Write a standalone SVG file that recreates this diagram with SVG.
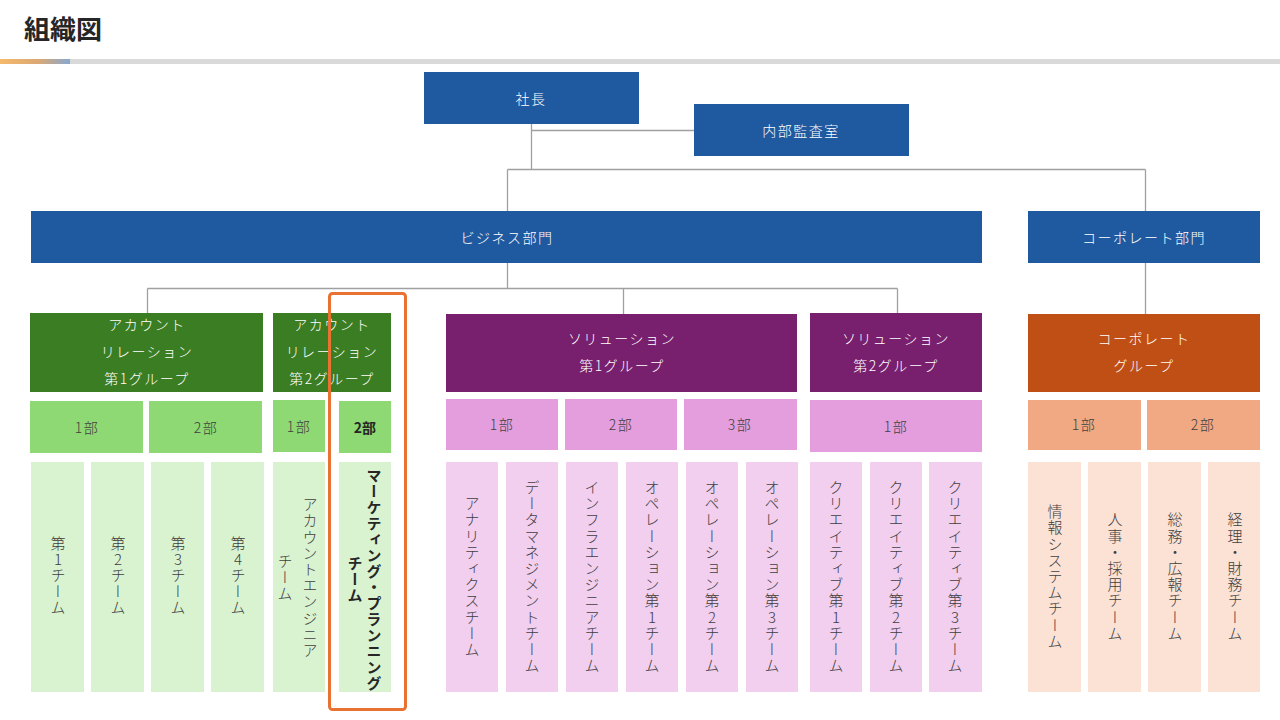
<svg xmlns="http://www.w3.org/2000/svg" width="1280" height="720" viewBox="0 0 1280 720">
<defs>
<linearGradient id="barGrad" x1="0" y1="0" x2="1" y2="0">
<stop offset="0" stop-color="#f5b96c"/>
<stop offset="0.55" stop-color="#dba874"/>
<stop offset="1" stop-color="#86a9d0"/>
</linearGradient>
<style>
text{font-family:"Noto Sans CJK JP","Noto Sans",sans-serif;}
.h{font-size:14px;letter-spacing:1.5px;text-anchor:middle;dominant-baseline:central;font-weight:300;}
.w{fill:#ffffff;}
.d{fill:#404040;}
.v{font-size:15px;letter-spacing:1.2px;text-anchor:middle;writing-mode:vertical-rl;text-orientation:upright;fill:#404040;font-weight:300;}
.b{font-weight:bold;fill:#262626;}
.blue{fill:#1f59a0;}
.g1{fill:#3b7d23;}.g2{fill:#8ed973;}.g3{fill:#d9f2d0;}
.p1{fill:#78206e;}.p2{fill:#e49edd;}.p3{fill:#f2ceef;}
.o1{fill:#c04f15;}.o2{fill:#f1a983;}.o3{fill:#fbe2d5;}
.conn{stroke:#a0a0a0;stroke-width:1.3;fill:none;}
</style>
</defs>
<rect width="1280" height="720" fill="#ffffff"/>
<text x="24" y="39" style="font-size:26px;font-weight:bold;fill:#262626;">組織図</text>
<rect x="0" y="59" width="70" height="5" fill="url(#barGrad)"/>
<rect x="70" y="59" width="1210" height="5" fill="#d9d9d9"/>

<g id="connectors" class="conn">
<path d="M531.5 124 V169.5 M531.5 130.5 H694 M507.5 169.5 H1145.5 M507.5 169.5 V211 M1145.5 169.5 V211"/>
<path d="M507.5 263 V288.5 M147.5 288.5 H897.5 M147.5 288.5 V313 M623.5 288.5 V314 M897.5 288.5 V313"/>
<path d="M1145.5 263 V314"/>
</g>

<g id="shacho"><rect class="blue" x="424" y="72" width="215" height="52"/><text class="h w" x="531" y="98">社長</text></g>
<g id="naibu-kansa"><rect class="blue" x="694" y="104" width="215" height="52"/><text class="h w" x="801" y="130">内部監査室</text></g>
<g id="business"><rect class="blue" x="31" y="211" width="951" height="52"/><text class="h w" x="507" y="237">ビジネス部門</text></g>
<g id="corporate"><rect class="blue" x="1028" y="211" width="232" height="52"/><text class="h w" x="1144" y="237">コーポレート部門</text></g>

<g id="ar1"><rect class="g1" x="30" y="313" width="233" height="79"/>
<text class="h w" x="147" y="324">アカウント</text><text class="h w" x="147" y="351">リレーション</text><text class="h w" x="147" y="378">第1グループ</text></g>
<g id="ar2"><rect class="g1" x="273" y="313" width="118" height="79"/>
<text class="h w" x="332" y="324">アカウント</text><text class="h w" x="332" y="351">リレーション</text><text class="h w" x="332" y="378">第2グループ</text></g>
<g id="sol1"><rect class="p1" x="446" y="314" width="351" height="78"/>
<text class="h w" x="622" y="338">ソリューション</text><text class="h w" x="622" y="365">第1グループ</text></g>
<g id="sol2"><rect class="p1" x="810" y="313" width="172" height="79"/>
<text class="h w" x="896" y="338">ソリューション</text><text class="h w" x="896" y="365">第2グループ</text></g>
<g id="corpgroup"><rect class="o1" x="1028" y="314" width="232" height="78"/>
<text class="h w" x="1144" y="338">コーポレート</text><text class="h w" x="1144" y="365">グループ</text></g>

<g id="ar1-1"><rect class="g2" x="30" y="401" width="113" height="52"/><text class="h d" x="87" y="427">1部</text></g>
<g id="ar1-2"><rect class="g2" x="149" y="401" width="113" height="52"/><text class="h d" x="206" y="427">2部</text></g>
<g id="ar2-1"><rect class="g2" x="273" y="400" width="52" height="52"/><text class="h d" x="299" y="426">1部</text></g>
<g id="ar2-2"><rect class="g2" x="339" y="401" width="52" height="52"/><text class="h b" x="365" y="427" style="letter-spacing:0">2部</text></g>
<g id="sol1-1"><rect class="p2" x="446" y="399" width="112" height="51"/><text class="h d" x="502" y="424">1部</text></g>
<g id="sol1-2"><rect class="p2" x="565" y="399" width="112" height="51"/><text class="h d" x="621" y="424">2部</text></g>
<g id="sol1-3"><rect class="p2" x="684" y="399" width="113" height="51"/><text class="h d" x="740" y="424">3部</text></g>
<g id="sol2-1"><rect class="p2" x="810" y="400" width="172" height="52"/><text class="h d" x="896" y="426">1部</text></g>
<g id="corp-1"><rect class="o2" x="1028" y="400" width="113" height="50"/><text class="h d" x="1084" y="424">1部</text></g>
<g id="corp-2"><rect class="o2" x="1147" y="400" width="113" height="50"/><text class="h d" x="1203" y="424">2部</text></g>

<g id="team-ar1"><rect class="g3" x="31" y="462" width="53" height="230"/><text class="v" x="58" y="576">第1チーム</text></g>
<g id="team-ar2"><rect class="g3" x="91" y="462" width="53" height="230"/><text class="v" x="118" y="576">第2チーム</text></g>
<g id="team-ar3"><rect class="g3" x="151" y="462" width="53" height="230"/><text class="v" x="178" y="576">第3チーム</text></g>
<g id="team-ar4"><rect class="g3" x="211" y="462" width="53" height="230"/><text class="v" x="238" y="576">第4チーム</text></g>
<g id="team-ae"><rect class="g3" x="273" y="462" width="52" height="230"/><text class="v" x="310" y="578">アカウントエンジニア</text><text class="v" x="285" y="578">チーム</text></g>
<g id="team-mp"><rect class="g3" x="339" y="462" width="52" height="230"/><text class="v b" x="374" y="580" style="letter-spacing:1px">マーケティング・プランニング</text><text class="v b" x="355" y="580">チーム</text></g>

<g id="team-analytics"><rect class="p3" x="446" y="462" width="52" height="230"/><text class="v" x="472" y="577">アナリティクスチーム</text></g>
<g id="team-data"><rect class="p3" x="506" y="462" width="52" height="230"/><text class="v" x="532" y="577">データマネジメントチーム</text></g>
<g id="team-infra"><rect class="p3" x="566" y="462" width="52" height="230"/><text class="v" x="592" y="577">インフラエンジニアチーム</text></g>
<g id="team-op1"><rect class="p3" x="626" y="462" width="52" height="230"/><text class="v" x="652" y="577">オペレーション第1チーム</text></g>
<g id="team-op2"><rect class="p3" x="686" y="462" width="52" height="230"/><text class="v" x="712" y="577">オペレーション第2チーム</text></g>
<g id="team-op3"><rect class="p3" x="746" y="462" width="52" height="230"/><text class="v" x="772" y="577">オペレーション第3チーム</text></g>
<g id="team-cr1"><rect class="p3" x="810" y="462" width="52" height="230"/><text class="v" x="836" y="577">クリエイティブ第1チーム</text></g>
<g id="team-cr2"><rect class="p3" x="870" y="462" width="52" height="230"/><text class="v" x="896" y="577">クリエイティブ第2チーム</text></g>
<g id="team-cr3"><rect class="p3" x="929" y="462" width="53" height="230"/><text class="v" x="955" y="577">クリエイティブ第3チーム</text></g>

<g id="team-is"><rect class="o3" x="1028" y="462" width="53" height="230"/><text class="v" x="1055" y="577">情報システムチーム</text></g>
<g id="team-hr"><rect class="o3" x="1088" y="462" width="53" height="230"/><text class="v" x="1115" y="577">人事・採用チーム</text></g>
<g id="team-ga"><rect class="o3" x="1148" y="462" width="53" height="230"/><text class="v" x="1175" y="577">総務・広報チーム</text></g>
<g id="team-fin"><rect class="o3" x="1208" y="462" width="52" height="230"/><text class="v" x="1235" y="577">経理・財務チーム</text></g>

<g id="highlight"><rect x="329.5" y="293.5" width="76" height="416" rx="3" fill="none" stroke="#e97132" stroke-width="3"/></g>
</svg>
